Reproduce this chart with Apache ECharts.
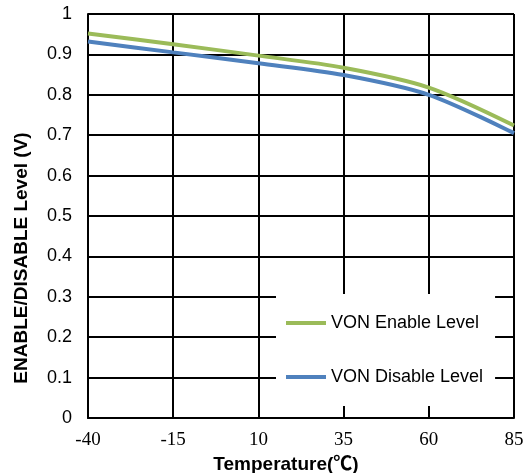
<!DOCTYPE html>
<html>
<head>
<meta charset="utf-8">
<script src="https://cdn.jsdelivr.net/npm/echarts@6/dist/echarts.min.js"></script>
<style>html,body{margin:0;padding:0;background:#fff;}#c{width:526px;height:473px;}</style>
</head>
<body>
<div id="c"></div>
<script>
var temperatures = ['-40', '-15', '10', '35', '60', '85'];
var enableLevel = [0.952, 0.925, 0.897, 0.867, 0.818, 0.724];
var disableLevel = [0.932, 0.905, 0.878, 0.849, 0.800, 0.705];
var seriesNames = ['VON Enable Level', 'VON Disable Level'];

var chart = echarts.init(document.getElementById('c'));
chart.setOption({
  animation: false,
  backgroundColor: '#fff',
  grid: {left: 88, right: 12, top: 14, bottom: 55, outerBoundsMode: 'none', containLabel: false},
  legend: {
    orient: 'vertical',
    left: 276, top: 294,
    padding: [20, 12, 20, 10],
    itemGap: 36,
    backgroundColor: '#fff',
    icon: 'rect',
    itemWidth: 40, itemHeight: 4,
    textStyle: {fontFamily: 'Liberation Sans, Arial', fontSize: 18, color: '#000'},
    data: seriesNames
  },
  xAxis: {
    type: 'category',
    boundaryGap: false,
    data: temperatures,
    name: 'Temperature(\u2103)',
    nameLocation: 'middle',
    nameGap: 35,
    nameTextStyle: {fontFamily: 'Liberation Sans, Arial, Noto Sans CJK SC', fontWeight: 'bold', fontSize: 19, color: '#000', padding: [0, 30, 0, 0]},
    axisLine: {show: true, lineStyle: {color: '#000', width: 2}},
    axisTick: {show: false},
    axisLabel: {fontFamily: 'Liberation Serif, Times New Roman', fontSize: 19, color: '#000', margin: 13},
    splitLine: {show: true, lineStyle: {color: '#000', width: 2}}
  },
  yAxis: {
    type: 'value',
    min: 0, max: 1, interval: 0.1,
    axisLine: {show: true, lineStyle: {color: '#000', width: 2}},
    axisTick: {show: false},
    axisLabel: {fontFamily: 'Liberation Sans, Arial', fontSize: 18, color: '#000', margin: 16},
    splitLine: {show: true, lineStyle: {color: '#000', width: 2}}
  },
  graphic: [{
    type: 'text',
    x: 22, y: 258,
    rotation: Math.PI / 2,
    style: {
      text: 'ENABLE/DISABLE Level (V)',
      fontFamily: 'Liberation Sans, Arial',
      fontWeight: 'bold', fontSize: 19, fill: '#000',
      align: 'center', verticalAlign: 'middle'
    }
  }],
  series: [{
    name: seriesNames[0], type: 'line', data: enableLevel, smooth: 0.3,
    showSymbol: false, color: '#9BBB59', lineStyle: {width: 4, color: '#9BBB59'}
  }, {
    name: seriesNames[1], type: 'line', data: disableLevel, smooth: 0.3,
    showSymbol: false, color: '#4F81BD', lineStyle: {width: 4, color: '#4F81BD'}
  }]
});
</script>
</body>
</html>
